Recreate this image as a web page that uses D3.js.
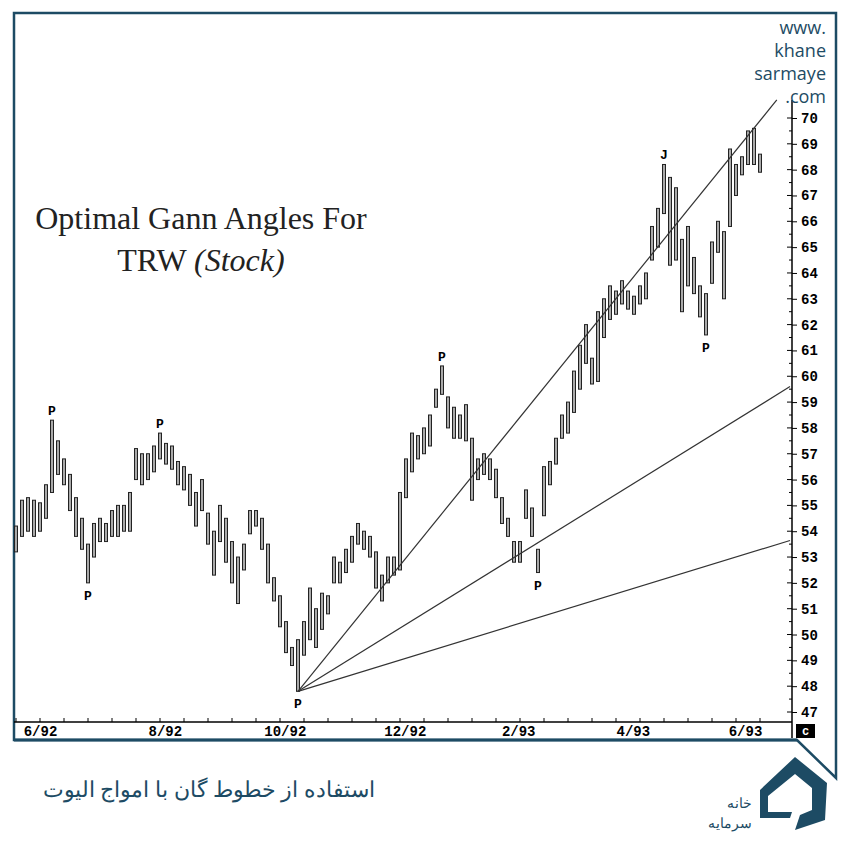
<!DOCTYPE html>
<html><head><meta charset="utf-8">
<script src="https://cdn.jsdelivr.net/npm/d3@7"></script>
<style>body{margin:0;background:#fff}</style>
</head><body>
<svg id="c" width="850" height="850"></svg>
<script>
const lows  = [53.2,53.8,54,53.8,54,54.5,55.5,56.2,55.8,54.8,53.8,53.3,52,53,53.6,53.6,53.8,53.8,54,54,56,55.8,56,56.3,56.8,56.6,56.4,55.8,55.6,55,54.2,54.8,53.5,52.3,53.6,52.8,52,51.2,52.5,53.9,54.2,53.3,52,51.3,50.3,49.3,48.8,47.8,49.2,49.8,49.5,50.2,50.8,52,52,52.4,52.8,53.5,53.3,53,51.8,51.3,52,52.3,52.5,55.3,56.3,56.8,57,57.3,58.8,59.3,58,57.6,57.6,57.5,55.2,56,56.2,56,55.3,54.3,53.8,52.8,52.8,54.5,53.8,52.4,54.6,55.8,56.6,57.6,57.8,58.6,59.5,60.5,59.7,59.8,61.5,62.2,62.4,62.8,62.6,62.4,62.8,63,64.5,65,66.3,64.3,64.5,62.5,63.5,63.2,62.3,61.6,63.6,64.8,63,65.8,67,67.8,68.2,68.2,67.9];
const highs = [54.2,55.2,55.3,55.2,55.1,55.8,58.3,57.5,56.8,56.2,55.3,54.5,53.5,54.3,54.5,54.3,54.8,55,55,55.5,57.2,57,57,57.3,57.8,57.4,57.3,56.7,56.5,56.2,55.5,56,54.7,54,55,54.5,53.6,53,53.5,54.8,54.8,54.5,53.5,52.2,51.5,50.5,49.5,49.8,50.5,51.8,51,51.6,51.5,53,52.8,53.3,53.8,54.3,54,53.8,53.2,52.3,53,53,55.5,56.8,57.8,57.7,58,58.5,59.5,60.4,59.2,58.8,58.5,58.9,57.6,56.8,57,56.8,56.4,55.3,54.5,53.6,53.6,55.6,54.9,53.3,56.5,56.7,57.6,58.5,59,60.2,61.2,62,60.7,62.5,63,63.5,63.3,63.7,63.3,63.1,63.5,64,65.8,66.5,68.2,67.7,67.3,65.3,65.8,64.6,63.5,63.2,65.2,66,65.6,68.8,68.2,68.5,69.5,69.6,68.6];
const priceTicks = d3.range(47, 71);
const dateLabels = ["6/92","8/92","10/92","12/92","2/93","4/93","6/93"];
const dateLabelIdx = [4,24.8,44.8,64.8,83.7,102.8,121.5];
const gannOrigin = [47, 47.8];
const gannEnds = [[126.8,70.7],[129,59.6],[129,53.64]];
const marks = [["P",6,58.3],["P",12,52],["P",24,57.8],["P",47,47.8],["P",71,60.4],["P",87,52.4],["J",108,68.2],["P",115,61.6]];
const topMarks = [true,false,true,false,true,false,true,false];

const svg = d3.select("#c");
const teal = "#1d4b64";
const x = d3.scaleLinear().domain([0,124]).range([16,760]);
const y = d3.scaleLinear().domain([47,70]).range([712,118]);

svg.append("path").attr("d","M14,740 L14,13 L836,13 L836,778 L797,740 Z")
  .attr("fill","none").attr("stroke",teal).attr("stroke-width",2.5);
svg.append("line").attr("x1",14).attr("x2",797).attr("y1",740).attr("y2",740).attr("stroke",teal).attr("stroke-width",3);

svg.append("line").attr("x1",792).attr("x2",792).attr("y1",100).attr("y2",738).attr("stroke","#000").attr("stroke-width",1.5);
svg.append("line").attr("x1",14).attr("x2",792).attr("y1",722).attr("y2",722).attr("stroke","#000").attr("stroke-width",1.5);
const ya = svg.append("g").attr("transform","translate(792,0)")
  .call(d3.axisRight(y).tickValues(priceTicks).tickSize(5).tickFormat(d3.format("d")));
ya.select(".domain").remove();
ya.selectAll("text").attr("font-family","Liberation Mono").attr("font-weight","bold").attr("font-size",14).attr("x",9);
const minor = d3.range(47.5,70.5,1);
svg.append("g").selectAll("line").data(minor).join("line")
  .attr("x1",789).attr("x2",792).attr("y1",d=>y(d)).attr("y2",d=>y(d)).attr("stroke","#000");
svg.append("g").selectAll("line").data(priceTicks).join("line")
  .attr("x1",787).attr("x2",792).attr("y1",d=>y(d)).attr("y2",d=>y(d)).attr("stroke","#000");

const xa = svg.append("g").attr("transform","translate(0,722)")
  .call(d3.axisBottom(x).tickValues(dateLabelIdx).tickSize(0).tickFormat((d,i)=>dateLabels[i]));
xa.select(".domain").remove();
xa.selectAll("text").attr("font-family","Liberation Mono").attr("font-weight","bold").attr("font-size",14).attr("dy","0.85em").attr("y",2);
svg.append("g").selectAll("line").data(d3.range(0,125,4)).join("line")
  .attr("x1",d=>x(d)).attr("x2",d=>x(d)).attr("y1",718).attr("y2",722).attr("stroke","#000");
svg.append("rect").attr("x",796).attr("y",724).attr("width",19).attr("height",14).attr("fill","#000");
svg.append("text").attr("x",805.5).attr("y",735).attr("text-anchor","middle").attr("fill","#fff")
  .attr("font-family","Liberation Mono").attr("font-weight","bold").attr("font-size",12).text("c");

svg.append("g").selectAll("rect").data(lows).join("rect")
  .attr("x",(d,i)=>x(i)-1.5).attr("width",3)
  .attr("y",(d,i)=>y(highs[i])).attr("height",(d,i)=>y(d)-y(highs[i]))
  .attr("fill","#aaa").attr("stroke","#222").attr("stroke-width",1);

svg.append("g").selectAll("line").data(gannEnds).join("line")
  .attr("x1",x(gannOrigin[0])).attr("y1",y(gannOrigin[1]))
  .attr("x2",d=>x(d[0])).attr("y2",d=>y(d[1])).attr("stroke","#333").attr("stroke-width",1.2);

svg.append("g").selectAll("text").data(marks).join("text")
  .attr("x",d=>x(d[1])).attr("y",(d,i)=>topMarks[i]? y(d[2])-5 : y(d[2])+17)
  .attr("text-anchor","middle").attr("font-family","Liberation Mono").attr("font-weight","bold")
  .attr("font-size",13).text(d=>d[0]);

const t = svg.append("g").attr("font-family","Liberation Serif").attr("font-size",32).attr("fill","#222");
t.append("text").attr("x",201).attr("y",229).attr("text-anchor","middle").text("Optimal Gann Angles For");
const t2 = t.append("text").attr("x",201).attr("y",271).attr("text-anchor","middle");
t2.append("tspan").text("TRW ");
t2.append("tspan").attr("font-style","italic").text("(Stock)");

const w = svg.append("g").attr("font-family","Open Sans").attr("font-size",18).attr("fill",teal).attr("text-anchor","end");
[["www.",34],["khane",57],["sarmaye",80],[".com",103]].forEach(d=>w.append("text").attr("x",826).attr("y",d[1]).text(d[0]));

svg.append("text").attr("x",375).attr("y",797).attr("text-anchor","end")
  .attr("font-family","Noto Sans").attr("font-size",22).attr("fill",teal).text("استفاده از خطوط گان با امواج الیوت");
svg.append("path").attr("d","M795,757 L827,783 L825,820 L795,830 L800,815 L812,810 L812,788 L795,774 L768,796 L768,812 L792,812 L790,818 L760,818 L760,790 Z")
  .attr("fill",teal);
const lg = svg.append("g").attr("font-family","Noto Sans").attr("font-size",14).attr("fill",teal).attr("text-anchor","end");
lg.append("text").attr("x",752).attr("y",808).text("خانه");
lg.append("text").attr("x",752).attr("y",828).text("سرمایه");
</script>
</body></html>
